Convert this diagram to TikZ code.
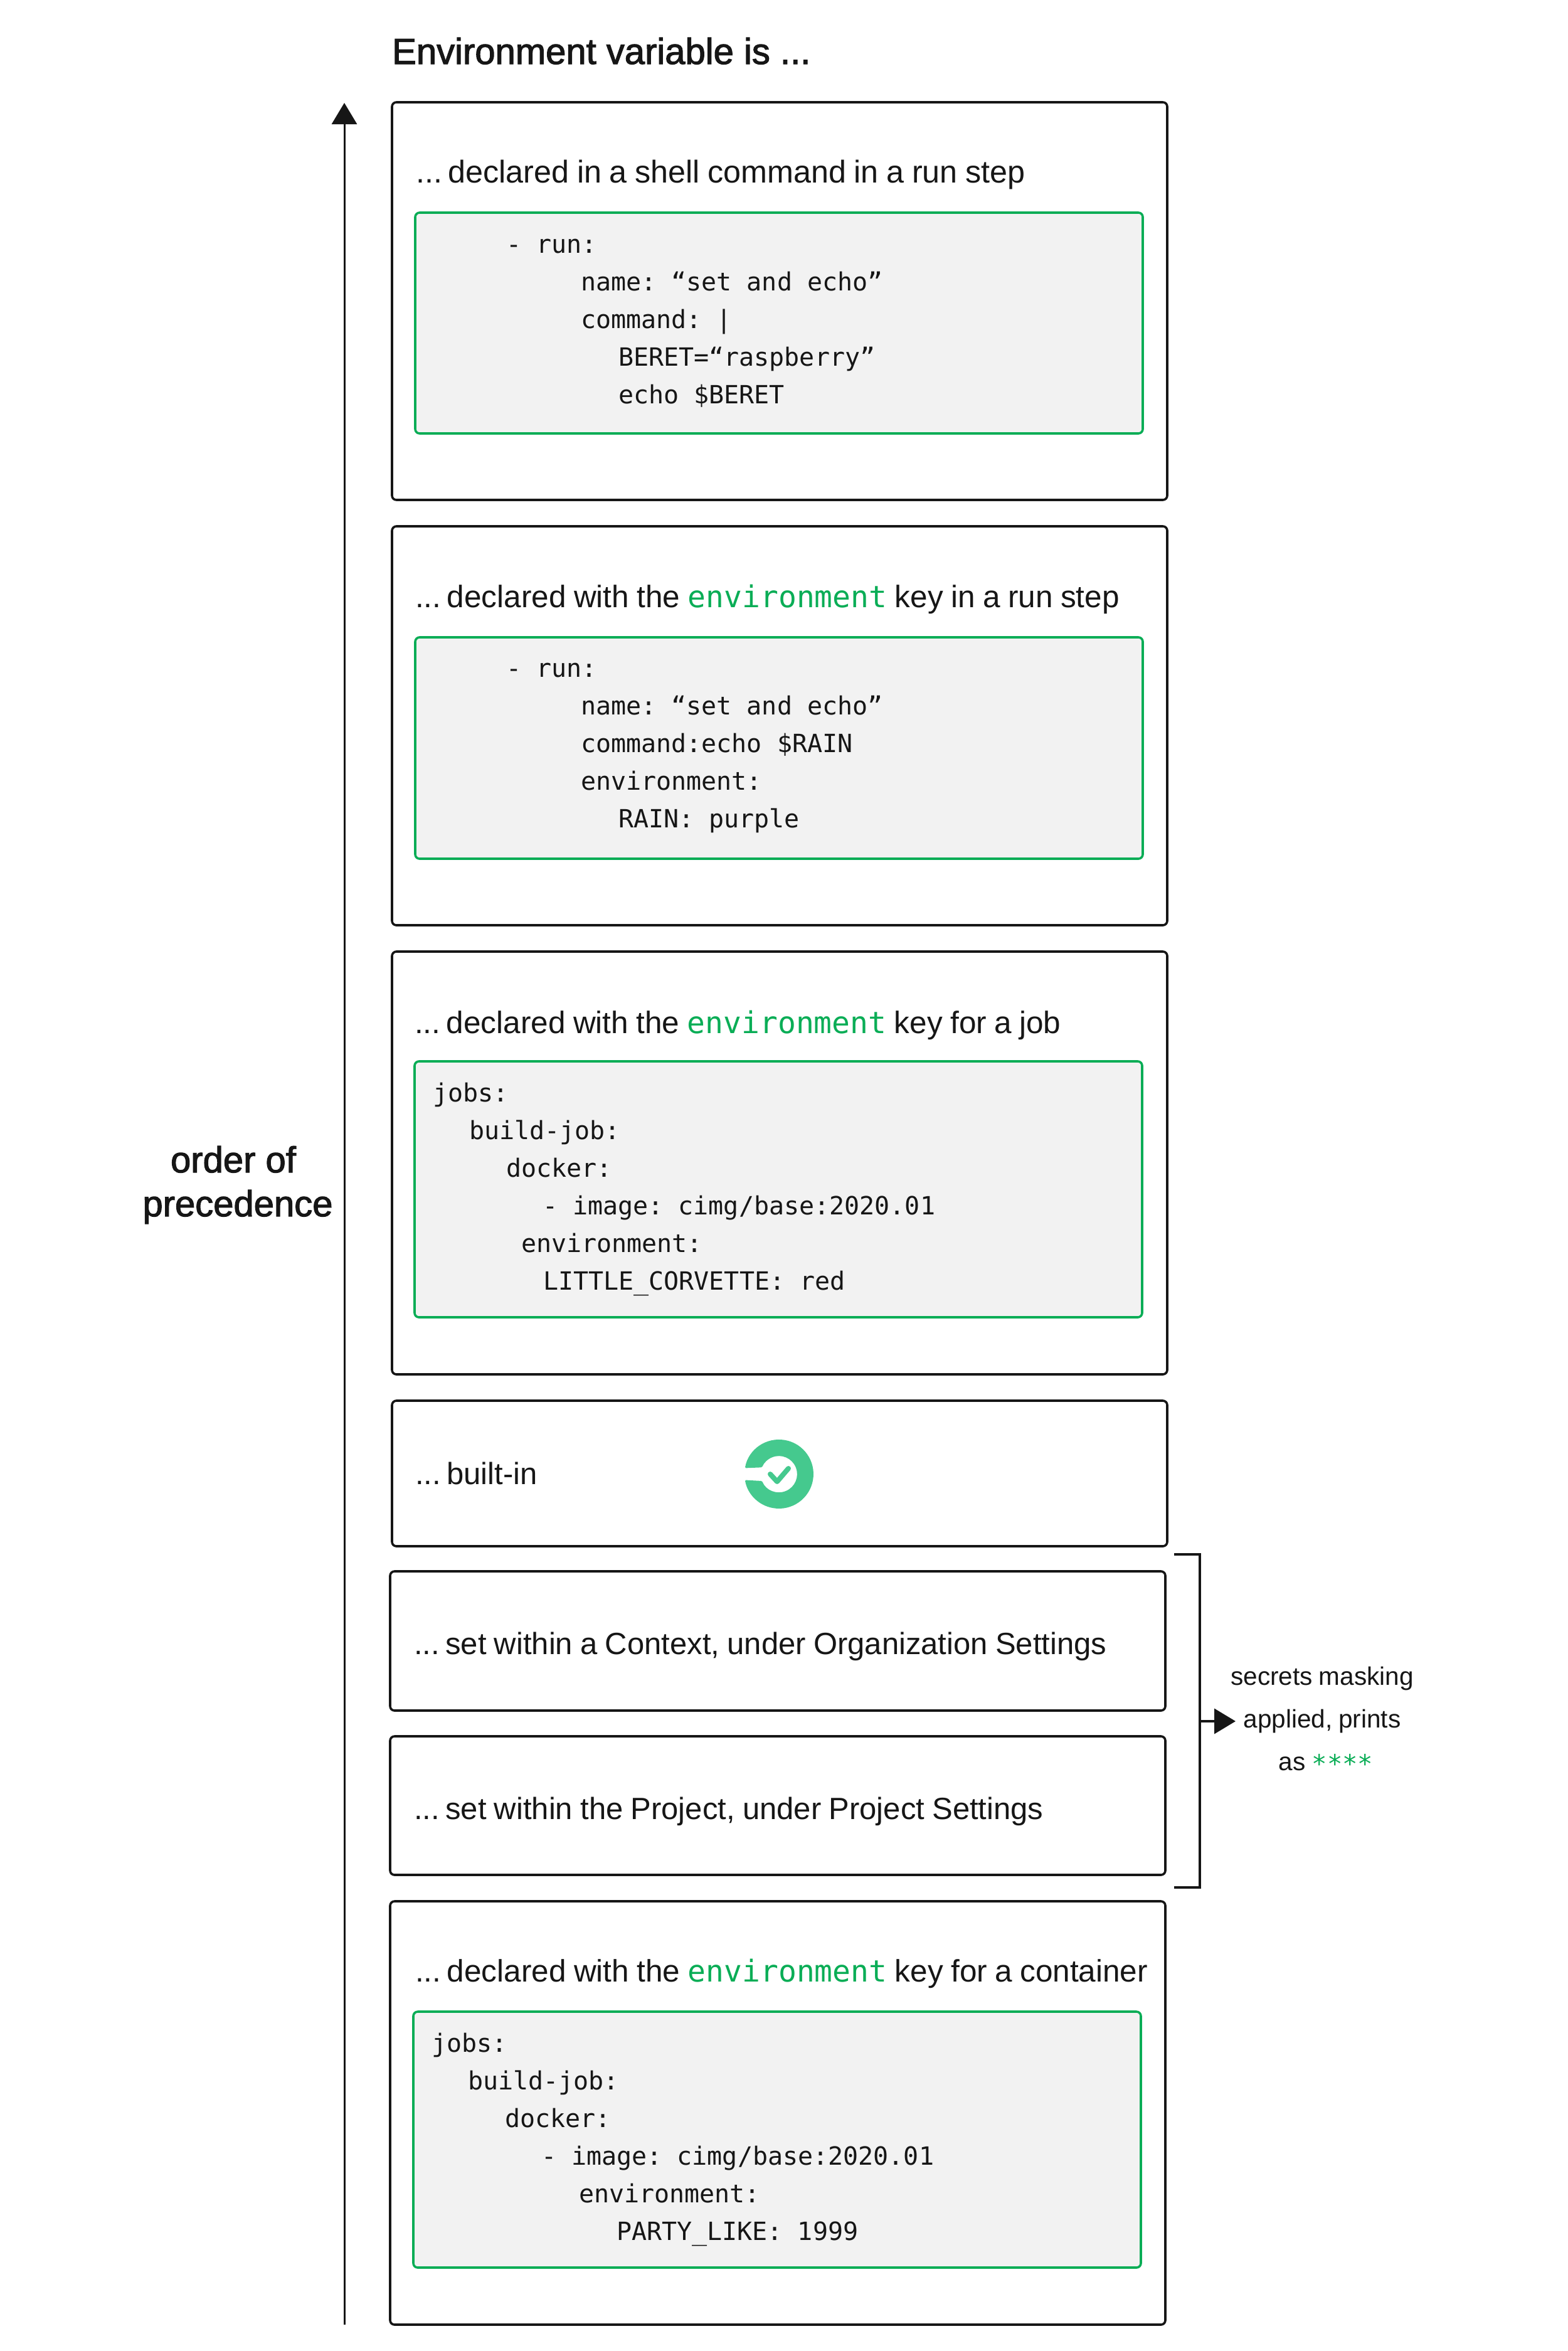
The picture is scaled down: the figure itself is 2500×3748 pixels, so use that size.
\documentclass[tikz,border=0pt]{standalone}
\usepackage{fontspec}
\usepackage{xcolor}
\usetikzlibrary{arrows.meta,positioning}
\setmainfont[WordSpace=0.9]{Liberation Sans}
\newfontfamily\codefont{DejaVu Sans Mono}
\newfontfamily\headfont[FakeBold=2]{Liberation Sans}
\definecolor{inkblack}{HTML}{161616}
\definecolor{keygreen}{HTML}{0AAD56}
\definecolor{logogreen}{HTML}{45C98E}
\definecolor{codegray}{HTML}{F2F2F2}
\newcommand{\envkey}{{\codefont\fontsize{48}{60}\selectfont\color{keygreen}environment}}
\newcommand{\ind}[1]{\hspace*{#1pt}}
\newcommand{\lead}{...\kern-3pt\ }
\newcommand{\codewide}{\spaceskip=24.08pt\relax\xspaceskip=24.08pt\relax}

\begin{document}
\begin{tikzpicture}[x=1pt, y=-1pt, node distance = 42pt, text = inkblack]
        \tikzstyle{envbox} = [rectangle, draw = inkblack, line width = 3.6pt, rounded corners = 7pt, outer sep = 0pt, minimum width = 1236pt, inner sep = 0pt]
        \tikzstyle{codebox} = [rectangle, draw = keygreen, fill = codegray, line width = 3.6pt, rounded corners = 7pt, outer sep = 0pt, anchor = north west, minimum width = 1160pt, text width = 1102pt, inner xsep = 29pt, inner ysep = 0pt, align = left, font = \codefont\fontsize{40}{60}\selectfont, execute at begin node = {\codewide}]
        \tikzstyle{steplabel} = [anchor = base west, inner sep = 0pt, font = \fontsize{49.5}{60}\selectfont]
        \tikzstyle{heading} = [inner sep = 0pt, font = \headfont\fontsize{58}{70}\selectfont]
        \useasboundingbox (0,0) rectangle (2500,3748);
        \node at (625,163) (shellbox) [envbox, anchor = north west, minimum height = 634pt] {};
        \node (runenvbox) [envbox, below = of shellbox, minimum height = 636pt] {};
        \node (jobenvbox) [envbox, below = of runenvbox, minimum height = 674pt] {};
        \node (builtinbox) [envbox, below = of jobenvbox, minimum height = 232pt] {};
        \node at (622,2505) (contextbox) [envbox, anchor = north west, minimum height = 222pt] {};
        \node (projectbox) [envbox, below = 41pt of contextbox, minimum height = 221pt] {};
        \node (containerbox) [envbox, below = 42pt of projectbox, minimum height = 675pt] {};
        \node (title) [heading, anchor = base west] at (625,102) {Environment variable is ...};
        \node (shelllabel) [steplabel, font = \fontsize{50.3}{60}\selectfont] at ([shift={(38,128)}]shellbox.north west) {\lead declared in a shell command in a run step};
        \node (runenvlabel) [steplabel] at ([shift={(37,129)}]runenvbox.north west) {\lead declared with the \envkey{} key in a run step};
        \node (jobenvlabel) [steplabel] at ([shift={(36,130)}]jobenvbox.north west) {\lead declared with the \envkey{} key for a job};
        \node (builtinlabel) [steplabel, font = \fontsize{49}{60}\selectfont] at ([shift={(37,133)}]builtinbox.north west) {\lead built-in};
        \node (contextlabel) [steplabel, font = \fontsize{49}{60}\selectfont] at ([shift={(38,132)}]contextbox.north west) {\lead set within a Context, under Organization Settings};
        \node (projectlabel) [steplabel, font = \fontsize{49}{60}\selectfont] at ([shift={(38,132)}]projectbox.north west) {\lead set within the Project, under Project Settings};
        \node (containerlabel) [steplabel] at ([shift={(40,128)}]containerbox.north west) {\lead declared with the \envkey{} key for a container};
        \node (shellcode) [codebox, minimum height = 352pt] at ([shift={(37,176)}]shellbox.north west)
        {\ind{116}- run:\\ \ind{235}name: “set and echo”\\ \ind{235}command: |\\ \ind{295}BERET=“raspberry”\\ \ind{295}echo \$BERET};
        \node (runenvcode) [codebox, minimum height = 353pt] at ([shift={(37,177)}]runenvbox.north west)
        {\ind{116}- run:\\ \ind{235}name: “set and echo”\\ \ind{235}command:echo \$RAIN\\ \ind{235}environment:\\ \ind{295}RAIN: purple};
        \node (jobenvcode) [codebox, minimum height = 408pt] at ([shift={(36,175)}]jobenvbox.north west)
        {jobs:\\ \ind{58}build-job:\\ \ind{117}docker:\\ \ind{175}- image: cimg/base:2020.01\\ \ind{141}environment:\\ \ind{176}LITTLE\_CORVETTE: red};
        \node (containercode) [codebox, minimum height = 408pt] at ([shift={(37,176)}]containerbox.north west)
        {jobs:\\ \ind{58}build-job:\\ \ind{117}docker:\\ \ind{175}- image: cimg/base:2020.01\\ \ind{235}environment:\\ \ind{295}PARTY\_LIKE: 1999};
        % logo in the built-in row
        \fill [logogreen, rounded corners = 1.5pt] (1187.8,2340.4) arc [start angle = 170, end angle = -170, radius = 55pt] -- (1215,2361) arc [start angle = -158, end angle = 158, radius = 29pt] -- cycle;
        \draw [logogreen, line width = 8pt, line cap = round, line join = round] (1228,2350) -- (1239,2362) -- (1257,2341);
        % precedence axis
        \coordinate (axisbottom) at (549,3706);
        \coordinate (axistop) at (549,164);
        \draw [-{Stealth[length = 34pt, width = 40pt, inset = 0pt]}, draw = inkblack, fill = inkblack, line width = 3pt] (axisbottom) -- (axistop);
        \node (precedence) [heading, align = center, anchor = base] at (379,1939) {order of\hspace*{14pt}\\ precedence};
        % bracket round the two settings rows
        \coordinate (bracketa) at (1872,2478);
        \coordinate (bracketb) at (1872,3009);
        \coordinate (bracketmid) at (1913,2744);
        \draw [draw = inkblack, line width = 3.6pt] (bracketa) -- ++(41,0) -- (1913,3009) -- (bracketb);
        \draw [-{Stealth[length = 34pt, width = 40pt, inset = 0pt]}, draw = inkblack, fill = inkblack, line width = 3.6pt] (bracketmid) -- ++(57,0);
        \node (masknote) [inner sep = 0pt, align = center, anchor = base, font = \fontsize{40.5}{68}\selectfont] at (2108,2822)
        {secrets masking\\ applied, prints\\ \hspace*{12pt}as {\codefont\color{keygreen}\raisebox{-4pt}{****}}};
\end{tikzpicture}
\end{document}
